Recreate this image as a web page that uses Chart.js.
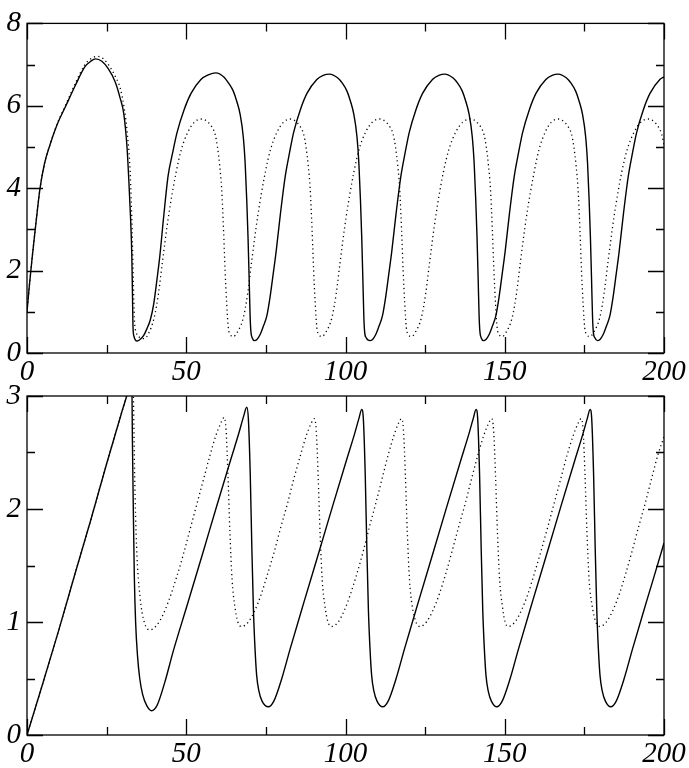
<!DOCTYPE html>
<html>
<head>
<meta charset="utf-8">
<script src="https://cdn.jsdelivr.net/npm/chart.js@4.4.1/dist/chart.umd.min.js"></script>
<style>
  body { margin: 0; background: #fff; }
  canvas { position: absolute; left: 0; }
</style>
</head>
<body>
<canvas id="topChart" width="689" height="390" style="top:0"></canvas>
<canvas id="bottomChart" width="689" height="398" style="top:370px"></canvas>
<script>
// axis ticks
const xMajor = [0, 50, 100, 150, 200];
const xMinor = [25, 75, 125, 175];
const topYMajor = [0, 2, 4, 6, 8];
const topYMinor = [1, 3, 5, 7];
const botYMajor = [0, 1, 2, 3];
const botYMinor = [0.5, 1.5, 2.5];

// upper panel, solid curve [t, value]
const topSolid = [
  [0, 1.0], [0.7, 1.6], [1.6, 2.3], [2.8, 3.15], [4.1, 4.0], [5.5, 4.6], [7.2, 5.05], [9.5, 5.55],
  [12.2, 6.0], [15.2, 6.5], [18.2, 6.95], [20, 7.08], [21.5, 7.14], [23.5, 7.08], [25.5, 6.9],
  [27.7, 6.58], [29.2, 6.2], [30.4, 5.8], [31.4, 5.0], [31.9, 4.3], [32.5, 3.3], [32.9, 2.4],
  [33.1, 1.5], [33.3, 0.6], [33.6, 0.4], [34, 0.32], [34.6, 0.29],
  [35.4, 0.32], [36.6, 0.42], [37.6, 0.58], [38.7, 0.8], [39.8, 1.2], [40.8, 1.78], [41.7, 2.35],
  [42.9, 3.3], [44.3, 4.3], [45.7, 4.85], [47.1, 5.35], [49.3, 5.9], [51.5, 6.3], [54.6, 6.64],
  [56.9, 6.75], [59.3, 6.8], [61.8, 6.7], [63.3, 6.55], [64.8, 6.35], [65.9, 6.1], [66.9, 5.8],
  [67.9, 5.25], [68.5, 4.6], [69, 3.7], [69.4, 2.8], [69.75, 1.8], [70.05, 0.9], [70.3, 0.52],
  [70.7, 0.37], [71.4, 0.3],
  [72.2, 0.33], [73.2, 0.45], [74.2, 0.65], [75.3, 0.9], [76.3, 1.35], [77.3, 1.92], [78.2, 2.45],
  [79.6, 3.4], [81.1, 4.3], [82.4, 4.85], [83.7, 5.35], [85.8, 5.9], [87.9, 6.3], [91, 6.64],
  [93, 6.74], [95, 6.77], [97.5, 6.68], [99, 6.55], [100.5, 6.35], [101.6, 6.1], [102.6, 5.8],
  [103.6, 5.25], [104.2, 4.6], [104.7, 3.7], [105.1, 2.8], [105.45, 1.8], [105.75, 0.9], [106, 0.52],
  [106.5, 0.37], [107.7, 0.3],
  [108.5, 0.33], [109.5, 0.45], [110.5, 0.65], [111.6, 0.9], [112.6, 1.35], [113.6, 1.92], [114.5, 2.45],
  [115.9, 3.4], [117.4, 4.3], [118.7, 4.85], [120, 5.35], [122.1, 5.9], [124.2, 6.3], [127.3, 6.64],
  [129.3, 6.74], [131.2, 6.77], [133.7, 6.68], [135.2, 6.55], [136.7, 6.35], [137.8, 6.1], [138.8, 5.8],
  [139.8, 5.25], [140.4, 4.6], [140.9, 3.7], [141.3, 2.8], [141.65, 1.8], [141.95, 0.9], [142.2, 0.52],
  [142.6, 0.37], [143.3, 0.3],
  [144.1, 0.33], [145.1, 0.45], [146.1, 0.65], [147.2, 0.9], [148.2, 1.35], [149.2, 1.92], [150.1, 2.45],
  [151.5, 3.4], [153, 4.3], [154.3, 4.85], [155.6, 5.35], [157.7, 5.9], [159.8, 6.3], [162.9, 6.64],
  [164.9, 6.74], [166.8, 6.77], [169.3, 6.68], [170.8, 6.55], [172.3, 6.35], [173.4, 6.1], [174.4, 5.8],
  [175.4, 5.25], [176, 4.6], [176.5, 3.7], [176.9, 2.8], [177.25, 1.8], [177.55, 0.9], [177.8, 0.52],
  [178.3, 0.37], [179.1, 0.3],
  [179.9, 0.33], [180.9, 0.45], [181.9, 0.65], [183, 0.9], [184, 1.35], [185, 1.92], [185.9, 2.45],
  [187.3, 3.4], [188.8, 4.3], [190.1, 4.85], [191.4, 5.35], [193.5, 5.9], [195.6, 6.3], [198.7, 6.64],
  [200, 6.7]
];

// upper panel, dotted curve
const topDotted = [
  [0, 1.0], [0.7, 1.6], [1.6, 2.3], [2.8, 3.15], [4.1, 4.0], [5.5, 4.6], [7.2, 5.05], [9.5, 5.57],
  [12.2, 6.03], [15.2, 6.55], [18.2, 7.0], [20, 7.14], [22.1, 7.2], [24, 7.14], [26, 6.95],
  [27.8, 6.7], [29.3, 6.42], [30.5, 5.95], [31.4, 5.4], [32.4, 4.38], [33, 3.0], [33.4, 1.7],
  [33.7, 0.85], [34.3, 0.5], [35.3, 0.38], [36.8, 0.35],
  [38, 0.45], [39.9, 0.85], [41.3, 1.45], [42.5, 2.2], [44.4, 3.3], [46.8, 4.38], [48.5, 4.95],
  [50.5, 5.36], [52.5, 5.6], [54.9, 5.68], [56.9, 5.6], [58.1, 5.48], [59.1, 5.3], [59.8, 5.0],
  [60.5, 4.55], [61.1, 4.0], [61.7, 3.0], [62.2, 2.0], [62.7, 1.2], [63.2, 0.62], [63.8, 0.45],
  [64.8, 0.4],
  [66, 0.5], [67.9, 0.85], [69.3, 1.45], [70.5, 2.2], [72.4, 3.3], [74.8, 4.38], [76.5, 4.95],
  [78.5, 5.36], [80.5, 5.6], [82.7, 5.68], [84.7, 5.6], [85.9, 5.48], [86.9, 5.3], [87.6, 5.0],
  [88.3, 4.55], [88.9, 4.0], [89.5, 3.0], [90, 2.0], [90.5, 1.2], [91, 0.62], [91.6, 0.45], [92.6, 0.4],
  [93.8, 0.5], [95.7, 0.85], [97.1, 1.45], [98.3, 2.2], [100.2, 3.3], [102.6, 4.38], [104.3, 4.95],
  [106.3, 5.36], [108.4, 5.6], [110.8, 5.68], [112.8, 5.6], [114, 5.48], [115, 5.3], [115.7, 5.0],
  [116.4, 4.55], [117, 4.0], [117.6, 3.0], [118.1, 2.0], [118.6, 1.2], [119.1, 0.62], [119.7, 0.45],
  [120.7, 0.4],
  [121.9, 0.5], [123.8, 0.85], [125.2, 1.45], [126.4, 2.2], [128.3, 3.3], [130.7, 4.38], [132.5, 4.95],
  [134.6, 5.36], [136.8, 5.6], [139.3, 5.68], [141.3, 5.6], [142.5, 5.48], [143.5, 5.3], [144.2, 5.0],
  [144.9, 4.55], [145.5, 4.0], [146.1, 3.0], [146.6, 2.0], [147.1, 1.2], [147.6, 0.62], [148.2, 0.45],
  [149.2, 0.4],
  [150.4, 0.5], [152.3, 0.85], [153.7, 1.45], [154.9, 2.2], [156.8, 3.3], [159.2, 4.38], [160.8, 4.95],
  [162.7, 5.36], [164.6, 5.6], [166.8, 5.68], [168.8, 5.6], [170, 5.48], [171, 5.3], [171.7, 5.0],
  [172.4, 4.55], [173, 4.0], [173.6, 3.0], [174.1, 2.0], [174.6, 1.2], [175.1, 0.62], [175.7, 0.45],
  [176.7, 0.4],
  [177.9, 0.5], [179.8, 0.85], [181.2, 1.45], [182.4, 2.2], [184.3, 3.3], [186.7, 4.38], [188.5, 4.95],
  [190.6, 5.36], [192.7, 5.6], [195.1, 5.68], [197.1, 5.6], [198.3, 5.48], [199.3, 5.3], [200, 5.05]
];

// lower panel, solid curve
const botSolid = [
  [0, 0], [5, 0.46], [10, 0.93], [15, 1.42], [20, 1.9], [25, 2.4], [30, 2.88], [31.3, 3.0],
  [32.5, 3.13], [32.9, 3.15], [33.1, 2.6], [33.4, 1.96], [33.7, 1.4], [34.1, 1.0], [34.7, 0.7],
  [35.4, 0.5], [36.3, 0.36], [37.6, 0.26], [39.1, 0.215],
  [40.8, 0.26], [43.3, 0.47], [45.9, 0.74], [50.3, 1.15], [55.3, 1.62], [59.5, 2.02], [64, 2.44],
  [66.5, 2.67], [68, 2.82], [69, 2.9], [69.5, 2.8], [70.1, 2.3], [70.6, 1.65], [71.1, 1.1],
  [71.6, 0.76], [72.1, 0.53], [72.8, 0.39], [73.8, 0.3], [75.8, 0.25],
  [77.5, 0.3], [80, 0.5], [82.6, 0.76], [87, 1.18], [92, 1.65], [96, 2.03], [100.4, 2.44],
  [102.8, 2.66], [104.2, 2.8], [105.1, 2.88], [105.6, 2.8], [106.2, 2.3], [106.7, 1.65], [107.2, 1.1],
  [107.7, 0.76], [108.2, 0.53], [108.9, 0.39], [109.9, 0.3], [111.7, 0.25],
  [113.4, 0.3], [115.9, 0.5], [118.5, 0.76], [122.9, 1.18], [127.9, 1.65], [131.9, 2.03], [136.3, 2.44],
  [138.7, 2.66], [140.1, 2.8], [141, 2.88], [141.5, 2.8], [142.1, 2.3], [142.6, 1.65], [143.1, 1.1],
  [143.6, 0.76], [144.1, 0.53], [144.8, 0.39], [145.8, 0.3], [147.5, 0.25],
  [149.2, 0.3], [151.7, 0.5], [154.3, 0.76], [158.7, 1.18], [163.7, 1.65], [167.7, 2.03], [172.1, 2.44],
  [174.5, 2.66], [175.9, 2.8], [176.8, 2.88], [177.3, 2.8], [177.9, 2.3], [178.4, 1.65], [178.9, 1.1],
  [179.4, 0.76], [179.9, 0.53], [180.6, 0.39], [181.6, 0.3], [183.3, 0.25],
  [185, 0.3], [187.5, 0.5], [190.1, 0.76], [194.5, 1.18], [199.5, 1.65], [200, 1.7]
];

// lower panel, dotted curve
const botDotted = [
  [0, 0], [5, 0.46], [10, 0.93], [15, 1.42], [20, 1.9], [25, 2.4], [30, 2.88], [31.3, 3.0],
  [32.5, 3.13], [33.1, 3.2], [33.4, 3.0], [33.8, 2.3], [34.4, 1.67], [35.5, 1.22], [36.8, 1.0],
  [38.6, 0.93],
  [40.7, 0.97], [42.8, 1.07], [44.9, 1.22], [47, 1.4], [49.1, 1.6], [51.2, 1.82], [53.3, 2.04],
  [55.4, 2.26], [57.5, 2.48], [59.3, 2.65], [60.7, 2.75], [61.9, 2.81], [62.5, 2.7], [63.1, 2.3],
  [63.7, 1.8], [64.4, 1.37], [65.2, 1.15], [66.2, 1.0], [67.4, 0.96],
  [69.5, 1.0], [71.5, 1.1], [73.6, 1.25], [75.6, 1.43], [77.7, 1.63], [79.7, 1.84], [81.8, 2.05],
  [83.8, 2.27], [85.9, 2.48], [87.7, 2.65], [89.1, 2.75], [90.2, 2.8], [90.8, 2.7], [91.4, 2.3],
  [92, 1.8], [92.7, 1.37], [93.5, 1.15], [94.5, 1.0], [95.7, 0.96],
  [97.7, 1.0], [99.6, 1.1], [101.6, 1.25], [103.6, 1.43], [105.6, 1.63], [107.5, 1.84], [109.5, 2.05],
  [111.5, 2.27], [113.4, 2.48], [115.2, 2.65], [116.5, 2.75], [117.6, 2.8], [118.2, 2.7], [118.8, 2.3],
  [119.4, 1.8], [120.1, 1.37], [120.9, 1.15], [122.1, 1.0], [123.4, 0.96],
  [125.4, 1.0], [127.4, 1.1], [129.5, 1.25], [131.5, 1.43], [133.5, 1.63], [135.5, 1.84], [137.6, 2.05],
  [139.6, 2.27], [141.6, 2.48], [143.4, 2.65], [144.8, 2.75], [145.9, 2.8], [146.5, 2.7], [147.1, 2.3],
  [147.7, 1.8], [148.4, 1.37], [149.2, 1.15], [150.1, 1.0], [151.1, 0.96],
  [153.2, 1.0], [155.2, 1.1], [157.3, 1.25], [159.3, 1.43], [161.4, 1.63], [163.5, 1.84], [165.5, 2.05],
  [167.6, 2.27], [169.6, 2.48], [171.5, 2.65], [172.9, 2.75], [174, 2.8], [174.6, 2.7], [175.2, 2.3],
  [175.8, 1.8], [176.5, 1.37], [177.4, 1.15], [178.6, 1.0], [179.9, 0.96],
  [181.9, 1.0], [183.9, 1.1], [186, 1.25], [188, 1.43], [190, 1.63], [192, 1.84], [194.1, 2.05],
  [196.1, 2.27], [198.1, 2.48], [200, 2.64]
];

const labelFont = {
  family: "'Liberation Serif', 'DejaVu Serif', serif",
  style: "italic",
  size: 29,
};

// frame and inward tick marks on all four sides
const frameTicks = {
  id: "frameTicks",
  afterDatasetsDraw(chart, args, opts) {
    const ctx = chart.ctx;
    const a = chart.chartArea;
    const xs = chart.scales.x;
    const ys = chart.scales.y;
    ctx.save();
    ctx.strokeStyle = "#000";
    ctx.lineWidth = 1.3;
    ctx.strokeRect(a.left, a.top, a.right - a.left, a.bottom - a.top);
    ctx.beginPath();
    const xt = (vals, len) => {
      vals.forEach((v) => {
        const p = Math.round(xs.getPixelForValue(v)) + 0.5;
        ctx.moveTo(p, a.bottom);
        ctx.lineTo(p, a.bottom - len);
        ctx.moveTo(p, a.top);
        ctx.lineTo(p, a.top + len);
      });
    };
    const yt = (vals, len) => {
      vals.forEach((v) => {
        const p = Math.round(ys.getPixelForValue(v)) + 0.5;
        ctx.moveTo(a.left, p);
        ctx.lineTo(a.left + len, p);
        ctx.moveTo(a.right, p);
        ctx.lineTo(a.right - len, p);
      });
    };
    xt(xMajor, 16);
    xt(xMinor, 8);
    yt(opts.yMajor, 16);
    yt(opts.yMinor, 8);
    ctx.stroke();
    ctx.restore();
  },
};

function toPoints(arr) {
  return arr.map((p) => ({ x: p[0], y: p[1] }));
}

function makeChart(id, solid, dotted, yMax, yStep, yMajor, yMinor, padTop, xHeight) {
  new Chart(document.getElementById(id), {
    type: "scatter",
    data: {
      datasets: [
        {
          data: toPoints(dotted),
          showLine: true,
          borderColor: "#000",
          borderWidth: 1.3,
          borderDash: [1.2, 3.2],
          pointRadius: 0,
          cubicInterpolationMode: "monotone",
        },
        {
          data: toPoints(solid),
          showLine: true,
          borderColor: "#000",
          borderWidth: 1.4,
          pointRadius: 0,
          cubicInterpolationMode: "monotone",
        },
      ],
    },
    options: {
      responsive: false,
      animation: false,
      devicePixelRatio: 1,
      layout: { padding: { top: padTop, right: 25, left: 0, bottom: 0 } },
      plugins: {
        legend: { display: false },
        tooltip: { enabled: false },
        frameTicks: { yMajor: yMajor, yMinor: yMinor },
      },
      scales: {
        x: {
          type: "linear",
          min: 0,
          max: 200,
          grid: { display: false, drawTicks: false },
          border: { display: false },
          ticks: { stepSize: 50, color: "#000", font: labelFont, padding: 2, maxRotation: 0 },
          afterFit: (s) => { s.height = xHeight; },
        },
        y: {
          min: 0,
          max: yMax,
          grid: { display: false, drawTicks: false },
          border: { display: false },
          ticks: { stepSize: yStep, color: "#000", font: labelFont, padding: 6 },
          afterFit: (s) => { s.width = 27; },
        },
      },
    },
    plugins: [frameTicks],
  });
}

makeChart("topChart", topSolid, topDotted, 8, 2, topYMajor, topYMinor, 13, 37);
makeChart("bottomChart", botSolid, botDotted, 3, 1, botYMajor, botYMinor, 26, 33);
</script>
</body>
</html>
